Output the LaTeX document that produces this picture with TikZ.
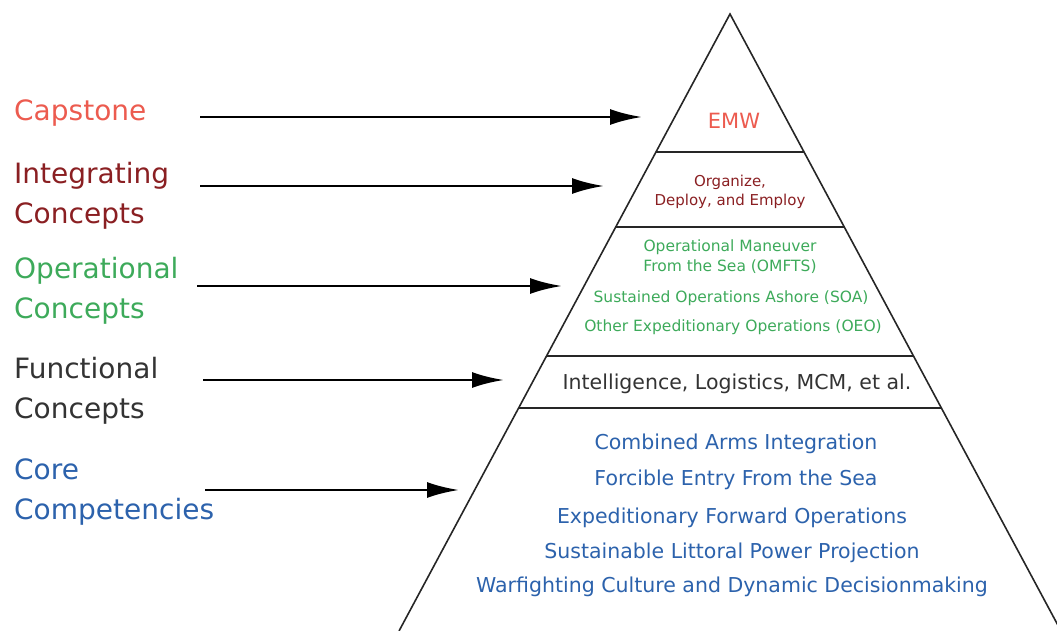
\documentclass[tikz,border=0pt]{standalone}
\usepackage{fontspec}
\setmainfont{DejaVu Sans}
\usepackage{xcolor}
\usetikzlibrary{positioning}
\usetikzlibrary{arrows.meta}
\usetikzlibrary{calc}
\definecolor{capred}{HTML}{EC5B4F}
\definecolor{intred}{HTML}{8A1F22}
\definecolor{opgreen}{HTML}{3DAA5A}
\definecolor{fungray}{HTML}{333333}
\definecolor{coreblue}{HTML}{2C62AC}
\begin{document}
\begin{tikzpicture}[x=1pt,y=-1pt,
			side label/.style={anchor=west,align=left,inner sep=0pt,
				font=\fontsize{28}{40}\selectfont},
			band text/.style={inner sep=0pt},
			core text/.style={band text,text=coreblue,font=\fontsize{20.5}{24}\selectfont},
			op text/.style={band text,text=opgreen,align=center,font=\fontsize{15.5}{20}\selectfont},
			level arrow/.style={line width=2.8pt,-{Latex[length=32pt,width=16pt]}},
			band line/.style={line width=2.4pt,black!85}]
		 \useasboundingbox (0,0) rectangle (1057,631);
		 \coordinate (apex) at (730,14);
		 \coordinate (bl) at (399,631);
		 \coordinate (br) at (1061,631);
		 \draw[line width=1.6pt,black!85] (bl) -- (apex) -- (br);
		 \foreach \t in {0.2237,0.3452,0.5543,0.6386}
			\draw[band line] ($(apex)!\t!(bl)$) -- ($(apex)!\t!(br)$);
		 \node[side label,text=capred] (cap) at (14,113) {Capstone};
		 \node[side label,text=intred] (int) at (14,196) {Integrating\\Concepts};
		 \node[side label,text=opgreen] (op) at (14,291) {Operational\\Concepts};
		 \node[side label,text=fungray] (fun) at (14,391) {Functional\\Concepts};
		 \node[side label,text=coreblue] (core) at (14,492) {Core\\Competencies};
		 \node[band text,text=capred,font=\fontsize{21}{24}\selectfont] (emw) at (734,121) {EMW};
		 \node[band text,text=intred,align=center,font=\fontsize{15}{19}\selectfont] (org) at (730,192)
			{Organize,\\Deploy, and Employ};
		 \node[op text] (omfts) at (730,257) {Operational Maneuver\\From the Sea (OMFTS)};
		 \node[op text] (soa) at (731,298) {Sustained Operations Ashore (SOA)};
		 \node[op text] (oeo) at (733,327) {Other Expeditionary Operations (OEO)};
		 \node[band text,text=fungray,font=\fontsize{20.5}{24}\selectfont] (intel) at (737,384)
			{Intelligence, Logistics, MCM, et al.};
		 \node[core text] (cai) at (736,444) {Combined Arms Integration};
		 \node[core text] (fes) at (736,480) {Forcible Entry From the Sea};
		 \node[core text] (efo) at (732,518) {Expeditionary Forward Operations};
		 \node[core text] (slp) at (732,553) {Sustainable Littoral Power Projection};
		 \node[core text] (wcd) at (732,587) {Warfighting Culture and Dynamic Decisionmaking};
		 \coordinate (cap s) at (200,117);   \coordinate (cap e) at (642,117);
		 \coordinate (int s) at (200,186);   \coordinate (int e) at (604,186);
		 \coordinate (op s) at (197,286);    \coordinate (op e) at (562,286);
		 \coordinate (fun s) at (203,380);   \coordinate (fun e) at (504,380);
		 \coordinate (core s) at (205,490);  \coordinate (core e) at (459,490);
		 \foreach \n in {cap,int,op,fun,core}
			\draw[level arrow] (\n\space s) -- (\n\space e);
\end{tikzpicture}
\end{document}
